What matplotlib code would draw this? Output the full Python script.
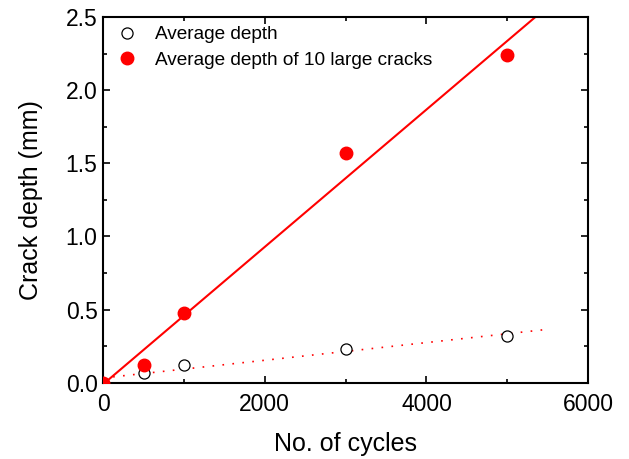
import numpy as np
import matplotlib.pyplot as plt
from matplotlib.ticker import MultipleLocator

plt.rcParams['font.family'] = ['Liberation Sans', 'DejaVu Sans']

cycles = [0, 500, 1000, 3000, 5000]
avg_depth = [0.0, 0.07, 0.12, 0.23, 0.32]
large_depth = [0.0, 0.12, 0.48, 1.57, 2.24]

fig = plt.figure(figsize=(6.29, 4.59), dpi=100)
ax = fig.add_axes([0.164, 0.166, 0.771, 0.797])

# linear fits
p_avg = np.polyfit(cycles, avg_depth, 1)
p_large = np.polyfit(cycles, large_depth, 1)
xa = np.linspace(0, 5500, 50)
xl = np.linspace(0, 6000, 50)
ax.plot(xa, np.polyval(p_avg, xa), color='red', linestyle=(0, (1, 5)), lw=1.2, zorder=2)
ax.plot(xl, np.polyval(p_large, xl), color='red', lw=1.5, zorder=2)

ax.plot(cycles, avg_depth, 'o', mfc='white', mec='black', ms=8, mew=0.9,
        label='Average depth', zorder=3)
ax.plot(cycles, large_depth, 'o', color='red', ms=9, label='Average depth of 10 large cracks', zorder=3)

ax.set_xlim(0, 6000)
ax.set_ylim(0, 2.5)
ax.xaxis.set_major_locator(MultipleLocator(2000))
ax.xaxis.set_minor_locator(MultipleLocator(1000))
ax.yaxis.set_major_locator(MultipleLocator(0.5))
ax.yaxis.set_minor_locator(MultipleLocator(0.25))
ax.yaxis.set_major_formatter(plt.FormatStrFormatter('%.1f'))
ax.tick_params(which='both', direction='in', top=True, right=True, width=1.2)
ax.tick_params(which='major', length=5, labelsize=16.5)
ax.tick_params(which='minor', length=3)
ax.tick_params(axis='x', pad=7)
ax.tick_params(axis='y', pad=4)
for s in ax.spines.values():
    s.set_linewidth(1.5)

ax.set_xlabel('No. of cycles', fontsize=18)
ax.set_ylabel('Crack depth (mm)', fontsize=18)
ax.xaxis.set_label_coords(0.5, -0.135)
ax.yaxis.set_label_coords(-0.125, 0.5)
ax.legend(loc='upper left', frameon=False, fontsize=13.7, handletextpad=0.95,
          borderaxespad=0, borderpad=0, labelspacing=0.42, handlelength=1.0,
          bbox_to_anchor=(0.03, 0.975))

fig.savefig('out.png', dpi=100)
